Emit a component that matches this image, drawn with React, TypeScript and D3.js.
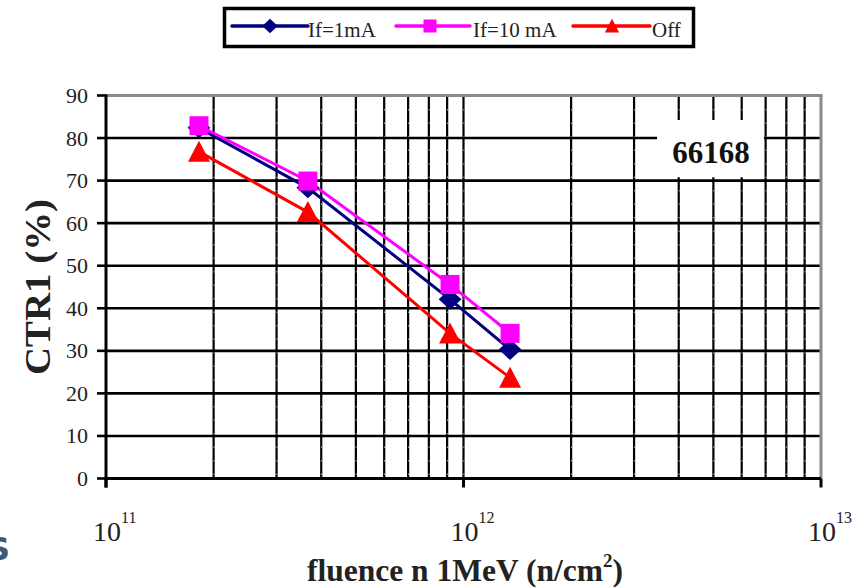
import React, { useEffect, useRef } from "react";
import * as d3 from "d3";

// Data
const fluence = [1.82e11, 3.67e11, 9.17e11, 1.35e12];
const ctrIf1mA = [82.4, 68.3, 42.1, 30.3];
const ctrIf10mA = [82.9, 69.9, 45.6, 34.1];
const ctrOff = [76.8, 62.6, 34.1, 23.7];
const seriesNames = ["If=1mA", "If=10 mA", "Off"];
const seriesColors = ["#000080", "#FF00FF", "#FF0000"];
const yTicks = [0, 10, 20, 30, 40, 50, 60, 70, 80, 90];
const xMajor = [1e11, 1e12, 1e13];
const xExponents = ["11", "12", "13"];

const W = 855;
const H = 587;
const FONT = "'Liberation Serif', 'Times New Roman', serif";

export default function App() {
  const ref = useRef<SVGSVGElement | null>(null);

  useEffect(() => {
    const svg = d3.select(ref.current);
    svg.selectAll("*").remove();

    const x = d3.scaleLog().domain([1e11, 1e13]).range([106, 821]);
    const y = d3.scaleLinear().domain([0, 90]).range([478.5, 95.5]);

    svg.append("rect").attr("width", W).attr("height", H).attr("fill", "#fff");

    const g = svg.append("g");

    // vertical minor grid
    const minorVals: number[] = [];
    for (const dec of [1e11, 1e12]) {
      for (let k = 2; k <= 10; k++) minorVals.push(k * dec);
    }
    minorVals.forEach((v) => {
      if (v >= 1e13) return;
      g.append("line")
        .attr("x1", x(v)).attr("x2", x(v))
        .attr("y1", y(90)).attr("y2", y(0))
        .attr("stroke", "#000").attr("stroke-width", 2.2);
      g.append("line")
        .attr("x1", x(v) + 0.3).attr("x2", x(v) + 0.3)
        .attr("y1", y(90)).attr("y2", y(0))
        .attr("stroke", "#fff").attr("stroke-width", 0.6)
        .attr("stroke-dasharray", "1.5 12");
    });

    // horizontal grid
    yTicks.forEach((t) => {
      if (t === 0 || t === 90) return;
      g.append("line")
        .attr("x1", x(1e11)).attr("x2", x(1e13))
        .attr("y1", y(t)).attr("y2", y(t))
        .attr("stroke", "#000").attr("stroke-width", 2.6);
    });

    // plot border top/right (grey)
    g.append("line")
      .attr("x1", x(1e11)).attr("x2", x(1e13) + 1.5)
      .attr("y1", y(90)).attr("y2", y(90))
      .attr("stroke", "#8a8a8a").attr("stroke-width", 3);
    g.append("line")
      .attr("x1", x(1e13)).attr("x2", x(1e13))
      .attr("y1", y(90)).attr("y2", y(0))
      .attr("stroke", "#8a8a8a").attr("stroke-width", 3);

    // "66168" label box
    g.append("rect")
      .attr("x", 657).attr("y", 120).attr("width", 107).attr("height", 57)
      .attr("fill", "#fff");
    g.append("text")
      .attr("x", 711).attr("y", 163)
      .attr("text-anchor", "middle")
      .attr("font-family", FONT).attr("font-weight", "bold")
      .attr("font-size", 31).attr("fill", "#111")
      .text("66168");

    // axes
    g.append("line")
      .attr("x1", x(1e11)).attr("x2", x(1e13))
      .attr("y1", y(0)).attr("y2", y(0))
      .attr("stroke", "#000").attr("stroke-width", 3);
    g.append("line")
      .attr("x1", x(1e11)).attr("x2", x(1e11))
      .attr("y1", y(90) - 1).attr("y2", y(0) + 9)
      .attr("stroke", "#000").attr("stroke-width", 3);

    yTicks.forEach((t) => {
      g.append("line")
        .attr("x1", 97).attr("x2", x(1e11))
        .attr("y1", y(t)).attr("y2", y(t))
        .attr("stroke", "#000").attr("stroke-width", 2.6);
      g.append("text")
        .attr("x", 88).attr("y", y(t) + 7.5)
        .attr("text-anchor", "end")
        .attr("font-family", FONT).attr("font-size", 22).attr("fill", "#222")
        .text(String(t));
    });

    xMajor.forEach((v, i) => {
      g.append("line")
        .attr("x1", x(v)).attr("x2", x(v))
        .attr("y1", y(0)).attr("y2", y(0) + 9)
        .attr("stroke", "#000").attr("stroke-width", 3);
      const t = g.append("text")
        .attr("x", x(v) - 13).attr("y", 541)
        .attr("text-anchor", "start")
        .attr("font-family", FONT).attr("fill", "#222");
      t.append("tspan").attr("font-size", 28).text("10");
      t.append("tspan").attr("font-size", 16).attr("dy", -18).text(xExponents[i]);
    });

    // axis titles
    g.append("text")
      .attr("transform", "translate(50,287) rotate(-90)")
      .attr("text-anchor", "middle")
      .attr("font-family", FONT).attr("font-weight", "bold")
      .attr("font-size", 35).attr("fill", "#222")
      .attr("textLength", 176).attr("lengthAdjust", "spacingAndGlyphs")
      .text("CTR1 (%)");

    const xt = g.append("text")
      .attr("x", 465).attr("y", 581)
      .attr("text-anchor", "middle")
      .attr("font-family", FONT).attr("font-weight", "bold")
      .attr("font-size", 31.5).attr("fill", "#222");
    xt.append("tspan").text("fluence n 1MeV (n/cm");
    xt.append("tspan").attr("font-size", 19).attr("dy", -14).text("2");
    xt.append("tspan").attr("dy", 14).text(")");

    // series
    const allSeries = [ctrIf1mA, ctrIf10mA, ctrOff];
    const line = d3.line<number>()
      .x((_, i) => x(fluence[i]))
      .y((d) => y(d));

    const drawMarker = (sel: any, kind: number, cx: number, cy: number, s: number, color: string) => {
      if (kind === 0) {
        sel.append("path")
          .attr("d", `M${cx},${cy - s * 0.55} L${cx + s * 0.6},${cy} L${cx},${cy + s * 0.55} L${cx - s * 0.6},${cy} Z`)
          .attr("fill", color);
      } else if (kind === 1) {
        sel.append("rect")
          .attr("x", cx - s / 2).attr("y", cy - s / 2)
          .attr("width", s).attr("height", s)
          .attr("fill", color);
      } else {
        sel.append("path")
          .attr("d", `M${cx},${cy - s * 0.55} L${cx + s * 0.55},${cy + s * 0.5} L${cx - s * 0.55},${cy + s * 0.5} Z`)
          .attr("fill", color);
      }
    };

    [2, 0, 1].forEach((si) => {
      g.append("path")
        .attr("d", line(allSeries[si]) as string)
        .attr("fill", "none")
        .attr("stroke", seriesColors[si])
        .attr("stroke-width", 3);
    });
    [2, 0, 1].forEach((si) => {
      allSeries[si].forEach((v, i) => {
        const size = si === 2 ? 20 : 19;
        drawMarker(g, si, x(fluence[i]), y(v), size, seriesColors[si]);
      });
    });

    // legend
    const lg = svg.append("g");
    lg.append("rect")
      .attr("x", 224.5).attr("y", 8.5).attr("width", 469).attr("height", 38)
      .attr("fill", "#fff").attr("stroke", "#000").attr("stroke-width", 3.5);
    const entries = [
      { x1: 232, x2: 308, mx: 270, tx: 308 },
      { x1: 396, x2: 470, mx: 430, tx: 473 },
      { x1: 573, x2: 650, mx: 612, tx: 652 },
    ];
    entries.forEach((e, i) => {
      lg.append("line")
        .attr("x1", e.x1).attr("x2", e.x2)
        .attr("y1", 26).attr("y2", 26)
        .attr("stroke", seriesColors[i]).attr("stroke-width", 3.5)
        .attr("stroke-linecap", "round");
      drawMarker(lg, i, e.mx, 26, 13, seriesColors[i]);
      lg.append("text")
        .attr("x", e.tx).attr("y", 37)
        .attr("font-family", FONT).attr("font-size", 21).attr("fill", "#222")
        .text(seriesNames[i]);
    });

    // partial glyph at the left edge (cut off in the reference too)
    svg.append("text")
      .attr("x", -13).attr("y", 560)
      .attr("font-family", "'DejaVu Sans', sans-serif").attr("font-weight", "bold")
      .attr("font-size", 32).attr("fill", "#3d5878")
      .text("S");
  }, []);

  return (
    <svg
      ref={ref}
      width={W}
      height={H}
      style={{ position: "absolute", left: 0, top: 0, overflow: "hidden" }}
    />
  );
}
